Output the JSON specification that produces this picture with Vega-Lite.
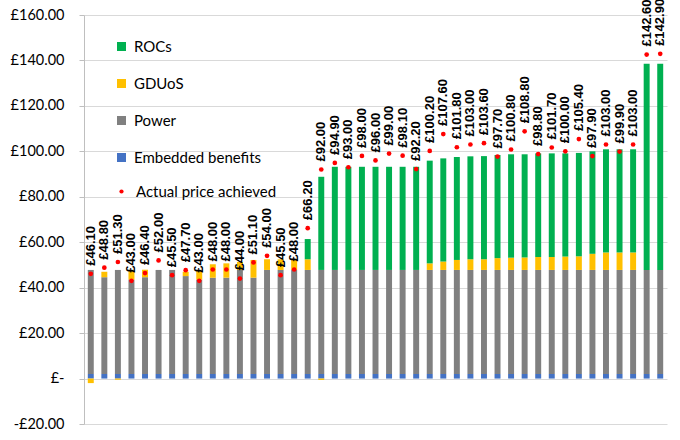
{
  "$schema": "https://vega.github.io/schema/vega-lite/v6.json",
  "width": 583,
  "height": 409,
  "autosize": "none",
  "padding": {"left": 84, "top": 15, "right": 13, "bottom": 16},
  "background": "white",
  "config": {
    "view": {"stroke": null},
    "font": "Lato",
    "locale": {
      "number": {"decimal": ".", "thousands": ",", "grouping": [3], "currency": ["£", ""], "minus": "-"}
    }
  },
  "data": {
    "values": [
      {"n": 1, "Embedded benefits": 2, "Power": 45.8, "GDUoS": -2.0, "ROCs": 0, "price": 46.1},
      {"n": 2, "Embedded benefits": 2, "Power": 42.6, "GDUoS": 2.4, "ROCs": 0, "price": 48.8},
      {"n": 3, "Embedded benefits": 2, "Power": 45.8, "GDUoS": -0.5, "ROCs": 0, "price": 51.3},
      {"n": 4, "Embedded benefits": 2, "Power": 41.5, "GDUoS": 3.9, "ROCs": 0, "price": 43.0},
      {"n": 5, "Embedded benefits": 2, "Power": 42.6, "GDUoS": 3.3, "ROCs": 0, "price": 46.4},
      {"n": 6, "Embedded benefits": 2, "Power": 45.8, "GDUoS": 0, "ROCs": 0, "price": 52.0},
      {"n": 7, "Embedded benefits": 2, "Power": 45.8, "GDUoS": 0, "ROCs": 0, "price": 45.5},
      {"n": 8, "Embedded benefits": 2, "Power": 43.1, "GDUoS": 1.9, "ROCs": 0, "price": 47.7},
      {"n": 9, "Embedded benefits": 2, "Power": 41.5, "GDUoS": 3.9, "ROCs": 0, "price": 43.0},
      {"n": 10, "Embedded benefits": 2, "Power": 42.4, "GDUoS": 5.9, "ROCs": 0, "price": 48.0},
      {"n": 11, "Embedded benefits": 2, "Power": 42.4, "GDUoS": 6.3, "ROCs": 0, "price": 48.0},
      {"n": 12, "Embedded benefits": 2, "Power": 45.8, "GDUoS": 3.5, "ROCs": 0, "price": 44.0},
      {"n": 13, "Embedded benefits": 2, "Power": 42.4, "GDUoS": 7.8, "ROCs": 0, "price": 51.1},
      {"n": 14, "Embedded benefits": 2, "Power": 45.8, "GDUoS": 4.7, "ROCs": 0, "price": 54.0},
      {"n": 15, "Embedded benefits": 2, "Power": 45.8, "GDUoS": 4.7, "ROCs": 0, "price": 45.5},
      {"n": 16, "Embedded benefits": 2, "Power": 45.8, "GDUoS": 4.7, "ROCs": 0, "price": 48.0},
      {"n": 17, "Embedded benefits": 2, "Power": 45.8, "GDUoS": 4.7, "ROCs": 8.9, "price": 66.2},
      {"n": 18, "Embedded benefits": 2, "Power": 45.8, "GDUoS": -0.6, "ROCs": 41.0, "price": 92.0},
      {"n": 19, "Embedded benefits": 2, "Power": 45.8, "GDUoS": 0, "ROCs": 45.4, "price": 94.9},
      {"n": 20, "Embedded benefits": 2, "Power": 45.8, "GDUoS": 0, "ROCs": 45.4, "price": 93.0},
      {"n": 21, "Embedded benefits": 2, "Power": 45.8, "GDUoS": 0, "ROCs": 45.4, "price": 98.0},
      {"n": 22, "Embedded benefits": 2, "Power": 45.8, "GDUoS": 0, "ROCs": 45.4, "price": 96.0},
      {"n": 23, "Embedded benefits": 2, "Power": 45.8, "GDUoS": 0, "ROCs": 45.4, "price": 99.0},
      {"n": 24, "Embedded benefits": 2, "Power": 45.8, "GDUoS": 0, "ROCs": 45.4, "price": 98.1},
      {"n": 25, "Embedded benefits": 2, "Power": 45.8, "GDUoS": 0, "ROCs": 45.4, "price": 92.2},
      {"n": 26, "Embedded benefits": 2, "Power": 45.8, "GDUoS": 2.9, "ROCs": 45.2, "price": 100.2},
      {"n": 27, "Embedded benefits": 2, "Power": 45.8, "GDUoS": 3.7, "ROCs": 45.4, "price": 107.6},
      {"n": 28, "Embedded benefits": 2, "Power": 45.8, "GDUoS": 4.4, "ROCs": 45.3, "price": 101.8},
      {"n": 29, "Embedded benefits": 2, "Power": 45.8, "GDUoS": 4.7, "ROCs": 45.3, "price": 103.0},
      {"n": 30, "Embedded benefits": 2, "Power": 45.8, "GDUoS": 4.7, "ROCs": 45.4, "price": 103.6},
      {"n": 31, "Embedded benefits": 2, "Power": 45.8, "GDUoS": 5.2, "ROCs": 45.4, "price": 97.7},
      {"n": 32, "Embedded benefits": 2, "Power": 45.8, "GDUoS": 5.4, "ROCs": 45.5, "price": 100.8},
      {"n": 33, "Embedded benefits": 2, "Power": 45.8, "GDUoS": 5.5, "ROCs": 45.4, "price": 108.8},
      {"n": 34, "Embedded benefits": 2, "Power": 45.8, "GDUoS": 5.7, "ROCs": 45.6, "price": 98.8},
      {"n": 35, "Embedded benefits": 2, "Power": 45.8, "GDUoS": 5.7, "ROCs": 45.6, "price": 101.7},
      {"n": 36, "Embedded benefits": 2, "Power": 45.8, "GDUoS": 5.9, "ROCs": 45.4, "price": 100.0},
      {"n": 37, "Embedded benefits": 2, "Power": 45.8, "GDUoS": 6.0, "ROCs": 45.5, "price": 105.4},
      {"n": 38, "Embedded benefits": 2, "Power": 45.8, "GDUoS": 7.1, "ROCs": 45.1, "price": 97.9},
      {"n": 39, "Embedded benefits": 2, "Power": 45.8, "GDUoS": 7.7, "ROCs": 45.4, "price": 103.0},
      {"n": 40, "Embedded benefits": 2, "Power": 45.8, "GDUoS": 7.7, "ROCs": 45.4, "price": 99.9},
      {"n": 41, "Embedded benefits": 2, "Power": 45.8, "GDUoS": 7.7, "ROCs": 45.4, "price": 103.0},
      {"n": 42, "Embedded benefits": 2, "Power": 45.8, "GDUoS": 0, "ROCs": 90.7, "price": 142.6},
      {"n": 43, "Embedded benefits": 2, "Power": 45.8, "GDUoS": 0, "ROCs": 90.7, "price": 142.9}
    ]
  },
  "encoding": {
    "x": {
      "field": "n",
      "type": "ordinal",
      "axis": null,
      "scale": {"paddingInner": 0.56, "paddingOuter": 0.28}
    }
  },
  "layer": [
    {
      "transform": [
        {"fold": ["Embedded benefits", "Power", "GDUoS", "ROCs"], "as": ["series", "value"]},
        {
          "lookup": "series",
          "from": {
            "data": {
              "values": [
                {"series": "Embedded benefits", "rank": 1},
                {"series": "Power", "rank": 2},
                {"series": "GDUoS", "rank": 3},
                {"series": "ROCs", "rank": 4}
              ]
            },
            "key": "series",
            "fields": ["rank"]
          }
        }
      ],
      "mark": {"type": "bar"},
      "encoding": {
        "y": {
          "field": "value",
          "type": "quantitative",
          "stack": "zero",
          "scale": {"domain": [-20, 160], "nice": false},
          "axis": {
            "title": null,
            "values": [-20, 0, 20, 40, 60, 80, 100, 120, 140, 160],
            "labelExpr": "datum.value == 0 ? '£-' : format(datum.value, '$.2f')",
            "grid": true,
            "gridColor": "#D9D9D9",
            "domainColor": "#BFBFBF",
            "tickColor": "#BFBFBF",
            "tickSize": 5,
            "labelPadding": 15,
            "labelFontSize": 14.5,
            "labelColor": "#000000",
            "labelFont": "Lato"
          }
        },
        "color": {
          "field": "series",
          "type": "nominal",
          "scale": {
            "domain": ["ROCs", "GDUoS", "Power", "Embedded benefits"],
            "range": ["#00B050", "#FFC000", "#808080", "#4472C4"]
          },
          "legend": {
            "title": null,
            "orient": "none",
            "legendX": 30,
            "legendY": 24,
            "padding": 0,
            "symbolType": "square",
            "symbolSize": 81,
            "symbolStrokeWidth": 0,
            "labelFontSize": 15,
            "labelFont": "Lato",
            "labelColor": "#000000",
            "labelOffset": 5,
            "rowPadding": 21
          }
        },
        "order": {"field": "rank", "type": "quantitative"}
      }
    },
    {
      "mark": {"type": "point", "filled": true, "color": "#FF0000", "size": 22, "opacity": 1},
      "encoding": {
        "y": {"field": "price", "type": "quantitative"},
        "shape": {
          "datum": "Actual price achieved",
          "type": "nominal",
          "scale": {"range": ["circle"]},
          "legend": {
            "title": null,
            "orient": "none",
            "legendX": 30,
            "legendY": 169,
            "padding": 0,
            "symbolSize": 18,
            "symbolFillColor": "#FF0000",
            "symbolStrokeWidth": 0,
            "labelFontSize": 15,
            "labelFont": "Lato",
            "labelColor": "#000000",
            "labelOffset": 7
          }
        }
      }
    },
    {
      "mark": {
        "type": "text",
        "angle": 270,
        "align": "left",
        "baseline": "middle",
        "dx": 8,
        "font": "Liberation Sans",
        "fontWeight": "bold",
        "fontSize": 13,
        "color": "#000000"
      },
      "encoding": {
        "y": {"field": "price", "type": "quantitative"},
        "text": {"field": "price", "type": "quantitative", "format": "$.2f"}
      }
    }
  ]
}
